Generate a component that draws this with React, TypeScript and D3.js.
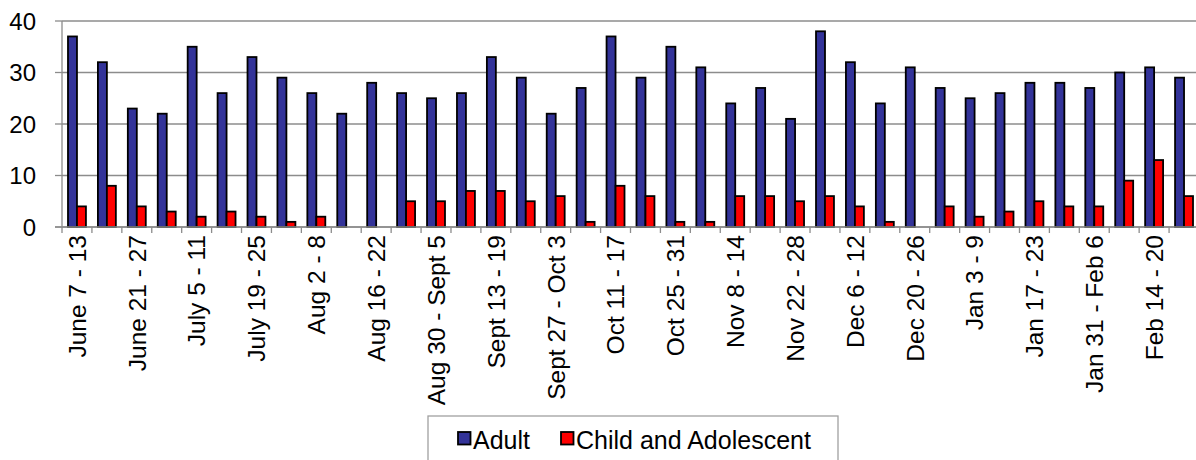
import { useMemo } from 'react';
import * as d3 from 'd3';

const width = 1196;
const height = 460;
const margin = { top: 21, right: -3, bottom: 233, left: 62 };

// weekly categories
const weeks = [
  'June 7 - 13', 'June 14 - 20', 'June 21 - 27', 'June 28 - July 4',
  'July 5 - 11', 'July 12 - 18', 'July 19 - 25', 'July 26 - Aug 1',
  'Aug 2 - 8', 'Aug 9 - 15', 'Aug 16 - 22', 'Aug 23 - 29',
  'Aug 30 - Sept 5', 'Sept 6 - 12', 'Sept 13 - 19', 'Sept 20 - 26',
  'Sept 27 - Oct 3', 'Oct 4 - 10', 'Oct 11 - 17', 'Oct 18 - 24',
  'Oct 25 - 31', 'Nov 1 - 7', 'Nov 8 - 14', 'Nov 15 - 21',
  'Nov 22 - 28', 'Nov 29 - Dec 5', 'Dec 6 - 12', 'Dec 13 - 19',
  'Dec 20 - 26', 'Dec 27 - Jan 2', 'Jan 3 - 9', 'Jan 10 - 16',
  'Jan 17 - 23', 'Jan 24 - 30', 'Jan 31 - Feb 6', 'Feb 7 - 13',
  'Feb 14 - 20', 'Feb 21 - 27',
];

const adult = [
  37, 32, 23, 22, 35, 26, 33, 29, 26, 22, 28, 26, 25, 26, 33, 29, 22, 27, 37,
  29, 35, 31, 24, 27, 21, 38, 32, 24, 31, 27, 25, 26, 28, 28, 27, 30, 31, 29,
];
const child = [
  4, 8, 4, 3, 2, 3, 2, 1, 2, 0, 0, 5, 5, 7, 7, 5, 6, 1, 8,
  6, 1, 1, 6, 6, 5, 6, 4, 1, 0, 4, 2, 3, 5, 4, 4, 9, 13, 6,
];

const seriesNames = ['Adult', 'Child and Adolescent'];
const colors = ['#333399', '#FF0000'];
const yTicks = [0, 10, 20, 30, 40];

const font = '"Liberation Sans", Arial, sans-serif';

export default function App() {
  const x0 = useMemo(
    () => d3.scaleBand().domain(weeks).range([margin.left, width - margin.right]),
    []
  );
  const x1 = useMemo(
    () => d3.scaleBand().domain(seriesNames).range([0, x0.bandwidth()]).paddingOuter(0.667),
    [x0]
  );
  const y = useMemo(
    () => d3.scaleLinear().domain([0, 40]).range([height - margin.bottom, margin.top]),
    []
  );
  const y0 = y(0);
  const values = [adult, child];

  return (
    <svg width={width} height={height} style={{ position: 'absolute', left: 0, top: 0 }} fontFamily={font}>
      <rect width={width} height={height} fill="#fff" />
      {/* gridlines + y axis */}
      {yTicks.map((t) => (
        <g key={t}>
          <line x1={margin.left} x2={width} y1={y(t)} y2={y(t)} stroke="#8c8c8c" strokeWidth={1.3} />
          <line x1={margin.left - 7} x2={margin.left} y1={y(t)} y2={y(t)} stroke="#8c8c8c" strokeWidth={1.3} />
          <text x={36} y={y(t)} dy="0.36em" textAnchor="end" fontSize={24} fill="#000">{t}</text>
        </g>
      ))}
      <line x1={margin.left} x2={margin.left} y1={margin.top} y2={y0} stroke="#8c8c8c" strokeWidth={1.3} />
      {/* bars */}
      {weeks.map((w, i) => (
        <g key={w} transform={`translate(${x0(w)},0)`}>
          {seriesNames.map((s, k) => {
            const v = values[k][i];
            if (!v) return null;
            return (
              <rect
                key={s}
                x={x1(s)}
                y={y(v)}
                width={x1.bandwidth()}
                height={y0 - y(v)}
                fill={colors[k]}
                stroke="#000"
                strokeWidth={1.8}
              />
            );
          })}
        </g>
      ))}
      {/* x axis */}
      <line x1={margin.left - 7} x2={width} y1={y0} y2={y0} stroke="#8c8c8c" strokeWidth={1.3} />
      {weeks.map((w) => (
        <line key={w} x1={x0(w)} x2={x0(w)} y1={y0} y2={y0 + 6} stroke="#8c8c8c" strokeWidth={1.3} />
      ))}
      {weeks.map((w, i) =>
        i % 2 === 0 ? (
          <text
            key={w}
            transform={`translate(${(x0(w) ?? 0) + x0.bandwidth() / 2},${y0 + 8}) rotate(-90)`}
            dy="0.36em"
            textAnchor="end"
            fontSize={24.5}
            fill="#000"
          >
            {w}
          </text>
        ) : null
      )}
      {/* legend */}
      <rect x={428} y={416} width={410} height={60} fill="#fff" stroke="#a0a0a0" strokeWidth={1.3} />
      {seriesNames.map((s, k) => {
        const lx = k === 0 ? 458 : 561;
        return (
          <g key={s}>
            <rect x={lx} y={432} width={12.5} height={12.5} fill={colors[k]} stroke="#000" strokeWidth={1.8} />
            <text x={lx + 15} y={449} fontSize={25} fill="#000">{s}</text>
          </g>
        );
      })}
    </svg>
  );
}
